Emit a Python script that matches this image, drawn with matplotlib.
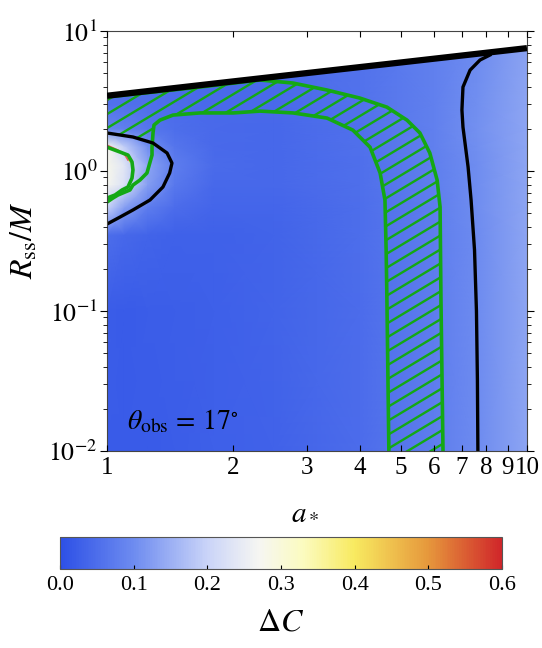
import numpy as np
import matplotlib.pyplot as plt
from matplotlib.colors import LinearSegmentedColormap
from matplotlib.patches import Polygon

plt.rcParams['font.family'] = ['Liberation Serif', 'DejaVu Serif']
plt.rcParams['mathtext.fontset'] = 'stix'

# ── DATA ──────────────────────────────────────────────────────────────────────
# coarse Delta C map: rows follow r_nodes, columns follow a_nodes
a_nodes = [1.0, 1.1, 1.25, 1.45, 1.8, 2.5, 4.0, 6.0, 7.6, 10.0]
r_nodes = [0.01, 0.1, 0.35, 0.55, 0.8, 1.1, 1.5, 2.0, 3.0, 10.0]
dC = [
    [0.020, 0.020, 0.021, 0.023, 0.026, 0.032, 0.048, 0.075, 0.100, 0.135],
    [0.022, 0.021, 0.022, 0.024, 0.027, 0.033, 0.049, 0.076, 0.100, 0.135],
    [0.050, 0.040, 0.033, 0.030, 0.030, 0.035, 0.050, 0.076, 0.100, 0.135],
    [0.200, 0.125, 0.075, 0.047, 0.036, 0.037, 0.051, 0.077, 0.101, 0.135],
    [0.275, 0.225, 0.125, 0.067, 0.042, 0.040, 0.052, 0.078, 0.102, 0.135],
    [0.280, 0.235, 0.135, 0.077, 0.046, 0.042, 0.053, 0.079, 0.103, 0.135],
    [0.275, 0.190, 0.105, 0.062, 0.044, 0.042, 0.054, 0.080, 0.105, 0.135],
    [0.090, 0.080, 0.065, 0.050, 0.043, 0.042, 0.055, 0.082, 0.106, 0.135],
    [0.055, 0.055, 0.052, 0.048, 0.044, 0.044, 0.057, 0.082, 0.104, 0.135],
    [0.050, 0.050, 0.050, 0.048, 0.046, 0.046, 0.058, 0.080, 0.098, 0.130],
]

# thick black upper boundary
a_top = [1.0, 2.0, 5.0, 10.0]
r_top = [3.45, 4.37, 5.96, 7.55]

# black contour, right branch
a_cr = [7.64, 7.62, 7.58, 7.50, 7.36, 7.24, 7.04, 7.00, 7.04, 7.32, 7.73, 8.16]
r_cr = [0.01, 0.032, 0.1, 0.273, 0.621, 1.07, 2.06, 2.73, 3.98, 5.26, 6.21, 6.74]

# black contour round the blob at a*~1
a_cl = [1.0, 1.153, 1.287, 1.39, 1.428, 1.41, 1.359, 1.266, 1.153, 1.074, 1.0]
r_cl = [1.87, 1.75, 1.585, 1.345, 1.14, 0.968, 0.769, 0.621, 0.527, 0.469, 0.418]

# green band, outer edge
a_go = [1.0, 1.665, 2.314, 2.773, 3.34, 4.00, 4.64, 5.18, 5.56, 5.87, 6.11, 6.21, 6.24, 6.31]
r_go = [3.38, 3.98, 4.47, 4.25, 3.79, 3.32, 2.86, 2.31, 1.87, 1.345, 0.862, 0.553, 0.12, 0.01]

# green band, inner edge (bottom -> blob)
a_gi = [4.69, 4.64, 4.62, 4.59, 4.47, 4.23, 3.85, 3.34, 2.773, 2.314, 2.0, 1.665,
        1.436, 1.337, 1.294, 1.287, 1.28]
r_gi = [0.01, 0.12, 0.273, 0.621, 0.968, 1.48, 1.96, 2.39, 2.60, 2.68, 2.60, 2.60,
        2.51, 2.31, 2.13, 1.87, 1.48]

# green loop continuing round the blob
a_gl = [1.28, 1.245, 1.198, 1.153, 1.134, 1.104, 1.062, 1.033, 1.0]
r_gl = [1.30, 0.968, 0.862, 0.794, 0.732, 0.708, 0.674, 0.641, 0.60]

# inner green loop
a_gb = [1.0, 1.074, 1.122, 1.147, 1.153, 1.147, 1.122, 1.086, 1.045, 1.0]
r_gb = [1.48, 1.367, 1.30, 1.16, 1.017, 0.891, 0.769, 0.732, 0.674, 0.641]

# thin red / yellow lines inside the blob
a_red = [1.0, 1.062, 1.104, 1.122]
r_red = [1.53, 1.41, 1.30, 1.20]
a_yel = [1.0, 1.07, 1.115, 1.135]
r_yel = [1.50, 1.38, 1.27, 1.16]

x_ticks = [1, 2, 3, 4, 5, 6, 7, 8, 9, 10]
y_ticks = [0.01, 0.1, 1, 10]
y_tick_labels = [r'$10^{-2}$', r'$10^{-1}$', r'$10^{0}$', r'$10^{1}$']
cb_ticks = [0.0, 0.1, 0.2, 0.3, 0.4, 0.5, 0.6]

cmap_vals = [0.0, 0.1, 0.2, 0.27, 0.33, 0.4, 0.5, 0.6]
cmap_cols = ['#2d50e6', '#6e8cf0', '#cad4f8', '#f6f6f2', '#fbfbc0', '#f8ea60', '#e6983c', '#d0262a']

# ── FIGURE ────────────────────────────────────────────────────────────────────
cmap = LinearSegmentedColormap.from_list(
    'dc', [(v / 0.6, c) for v, c in zip(cmap_vals, cmap_cols)])

fig = plt.figure(figsize=(5.42, 6.48), dpi=100)
ax = fig.add_axes([0.1974, 0.304, 0.7749, 0.6481])
ax.set_xscale('log')
ax.set_yscale('log')

A, R = np.meshgrid(a_nodes, r_nodes)
mesh = ax.pcolormesh(A, R, np.array(dC), shading='gouraud', cmap=cmap,
                     vmin=0, vmax=0.6, zorder=0.5)

# nothing above the boundary
ax.fill_between(a_top, r_top, 100, color='white', zorder=1, lw=0)

# hatched band
green = '#14a814'
poly_a = a_go + a_gi + a_cl[:3][::-1]
poly_r = r_go + r_gi + r_cl[:3][::-1]
band = Polygon(np.column_stack([poly_a, poly_r]), closed=True,
               facecolor='none', edgecolor='none', transform=ax.transData)
ax.add_patch(band)
k = np.tan(np.radians(31))
xx = np.array([0.0, 1.0])
for c in np.arange(-0.430 - 0.0333 * 40, 1.0, 0.0333):
    ln, = ax.plot(xx, k * xx + c, color=green, lw=1.7, transform=ax.transAxes,
                  zorder=1.5)
    ln.set_clip_path(band)

# thin coloured lines inside the blob
ax.plot(a_yel, r_yel, color='#f4e06a', lw=1.2, zorder=1.7)
ax.plot(a_red, r_red, color='#e0605a', lw=1.2, zorder=1.8)

# green contours
ax.plot(a_go, r_go, color=green, lw=2.6, zorder=2)
ax.plot(a_gi + a_gl, r_gi + r_gl, color=green, lw=2.6, zorder=2)
ax.plot(a_gb, r_gb, color=green, lw=2.6, zorder=2)

# black contours
ax.plot(a_cr, r_cr, color='black', lw=2.4, zorder=2.2)
ax.plot(a_cl, r_cl, color='black', lw=2.4, zorder=2.2)
ax.plot(a_top, r_top, color='black', lw=4.5, zorder=3, solid_capstyle='butt')

ax.set_xlim(1, 10)
ax.set_ylim(0.01, 10)
ax.set_axisbelow(False)

ax.set_xticks(x_ticks)
ax.set_xticklabels([str(t) for t in x_ticks])
ax.xaxis.set_minor_locator(plt.NullLocator())
ax.set_yticks(y_ticks)
ax.set_yticklabels(y_tick_labels)
ax.tick_params(axis='x', which='both', direction='in', top=True, length=4,
               width=0.8, labelsize=18, pad=4)
ax.tick_params(axis='y', which='major', direction='out', right=True, length=5,
               width=0.8, labelsize=18.5, pad=2)
ax.tick_params(axis='y', which='minor', direction='out', right=True, length=3,
               width=0.6)
for sp in ax.spines.values():
    sp.set_color('#444444')
    sp.set_linewidth(0.8)

ax.text(0.048, 0.069, r'$\theta_{\rm obs}\,=\,17^{\circ}$', transform=ax.transAxes,
        fontsize=20, ha='left', va='center')

fig.text(305 / 542, 1 - 512 / 648, r'$a_*$', fontsize=21, ha='center', va='center')
fig.text(25 / 542, 1 - 240 / 648, r'$R_{\rm ss}/M$', fontsize=23, rotation=90,
         ha='center', va='center')

# colorbar
cax = fig.add_axes([0.1107, 0.1219, 0.8155, 0.0494])
cb = fig.colorbar(mesh, cax=cax, orientation='horizontal', ticks=cb_ticks)
cb.set_ticklabels(['%.1f' % t for t in cb_ticks])
cb.ax.tick_params(direction='in', length=3, width=0.8, labelsize=16, pad=5)
cb.outline.set_edgecolor('#555555')
cb.outline.set_linewidth(0.8)
fig.text(281 / 542, 1 - 623 / 648, r'$\Delta C$', fontsize=23, ha='center', va='center')

fig.savefig('out.png', dpi=100)
